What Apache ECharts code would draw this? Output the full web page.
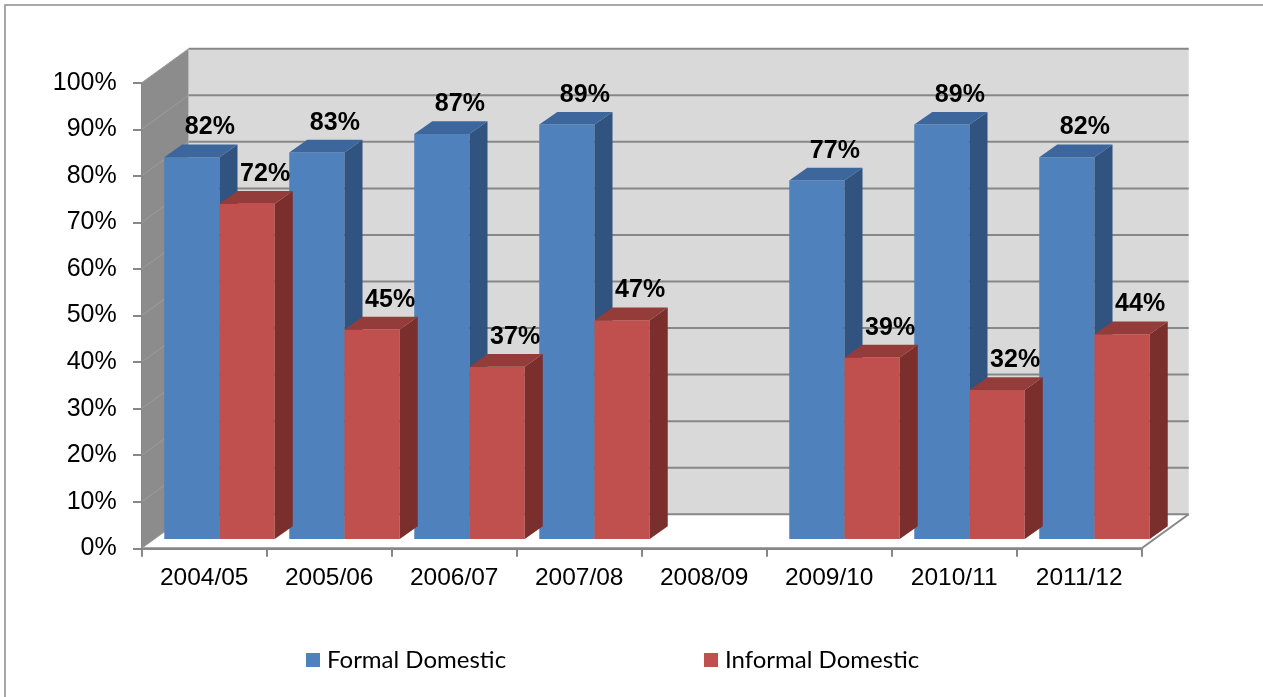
<!DOCTYPE html>
<html>
<head>
<meta charset="utf-8">
<title>Formal vs Informal Domestic</title>
<script src="https://cdn.jsdelivr.net/npm/echarts@6/dist/echarts.min.js"></script>
<style>
  html, body { margin: 0; padding: 0; background: #ffffff; }
  #chart { width: 1263px; height: 697px; }
</style>
</head>
<body>
<div id="chart"></div>
<script>
// ---- data ----
const categories = ['2004/05', '2005/06', '2006/07', '2007/08', '2008/09', '2009/10', '2010/11', '2011/12'];
const formalDomestic = [82, 83, 87, 89, null, 77, 89, 82];
const informalDomestic = [72, 45, 37, 47, null, 39, 32, 44];
const yTicks = [0, 10, 20, 30, 40, 50, 60, 70, 80, 90, 100];

// ---- 3D look ----
const WALL_DEPTH = [47, -34];      // offset from front plane to back wall
const BAR_FRONT = [15.3, -9.3];    // offset of the bars' front face from the front plane
const BAR_DEPTH = [18, -12.7];     // thickness of each column
const BAR_WIDTH_RATIO = 0.442;     // width of one column as a share of the category band

const COLORS = {
  formal:   { front: '#4F81BD', side: '#30537F', top: '#3D679C' },
  informal: { front: '#C0504D', side: '#7B2F2D', top: '#943C3A' }
};
const WALL_SIDE = '#8C8C8C';
const WALL_BACK = '#D9D9D9';
const GRID_LINE = '#878787';
const AXIS_FONT = 'Liberation Sans, Arial, sans-serif';

function toPairs(arr) {
  return arr.map((v, i) => [i, v == null ? '-' : v]);
}

function columnGeometry(api, isLeft) {
  const i = api.value(0);
  const v = api.value(1);
  if (v == null || isNaN(v)) return null;
  const top = api.coord([i, v]);
  const base = api.coord([i, 0]);
  const band = api.size([1, 0])[0];
  const w = band * BAR_WIDTH_RATIO;
  const x0 = top[0] + BAR_FRONT[0] - (isLeft ? w : 0);
  return {
    v: v, x0: x0, x1: x0 + w, w: w,
    yTop: top[1] + BAR_FRONT[1],
    yBase: base[1] + BAR_FRONT[1]
  };
}

function columnRenderer(isLeft, c) {
  return function (params, api) {
    const g = columnGeometry(api, isLeft);
    if (!g) return;
    const dx = BAR_DEPTH[0], dy = BAR_DEPTH[1];
    return {
      type: 'group',
      children: [
        { type: 'rect', shape: { x: g.x0, y: g.yTop, width: g.w, height: g.yBase - g.yTop },
          style: { fill: c.front } },
        { type: 'polygon', shape: { points: [[g.x1, g.yTop], [g.x1 + dx, g.yTop + dy], [g.x1 + dx, g.yBase + dy], [g.x1, g.yBase]] },
          style: { fill: c.side } },
        { type: 'polygon', shape: { points: [[g.x0, g.yTop], [g.x1, g.yTop], [g.x1 + dx, g.yTop + dy], [g.x0 + dx, g.yTop + dy]] },
          style: { fill: c.top } }
      ]
    };
  };
}

function labelRenderer(isLeft) {
  return function (params, api) {
    const g = columnGeometry(api, isLeft);
    if (!g) return;
    return {
      type: 'text',
      x: g.x0 + g.w / 2 + BAR_DEPTH[0],
      y: g.yTop + BAR_DEPTH[1] - 17,
      style: {
        text: g.v + '%',
        fill: '#000000',
        font: 'bold 25px ' + AXIS_FONT,
        align: 'center',
        verticalAlign: 'middle'
      }
    };
  };
}

function wallsRenderer(params, api) {
  const cs = params.coordSys;
  const L = cs.x, T = cs.y, W = cs.width, H = cs.height, B = T + H, R = L + W;
  const dx = WALL_DEPTH[0], dy = WALL_DEPTH[1];
  return {
    type: 'group',
    children: [
      { type: 'polygon', shape: { points: [[L, B], [R, B], [R + dx, B + dy], [L + dx, B + dy]] },
        style: { fill: '#ffffff' } },
      { type: 'polygon', shape: { points: [[L, T], [L + dx, T + dy], [L + dx, B + dy], [L, B]] },
        style: { fill: WALL_SIDE } },
      { type: 'rect', shape: { x: L + dx, y: T + dy, width: W, height: H },
        style: { fill: WALL_BACK } },
      { type: 'line', shape: { x1: R, y1: B, x2: R + dx, y2: B + dy },
        style: { stroke: GRID_LINE, lineWidth: 2 } },
      { type: 'line', shape: { x1: L, y1: B, x2: R, y2: B },
        style: { stroke: GRID_LINE, lineWidth: 2 } }
    ]
  };
}

function gridLineRenderer(params, api) {
  const cs = params.coordSys;
  const L = cs.x, R = cs.x + cs.width;
  const y = api.coord([0, api.value(1)])[1];
  const dx = WALL_DEPTH[0], dy = WALL_DEPTH[1];
  return {
    type: 'group',
    children: [
      { type: 'line', shape: { x1: L + dx, y1: y + dy, x2: R + dx, y2: y + dy },
        style: { stroke: GRID_LINE, lineWidth: 2 } },
      { type: 'line', shape: { x1: L, y1: y, x2: L + dx, y2: y + dy },
        style: { stroke: '#9C9C9C', lineWidth: 1 } }
    ]
  };
}

const chart = echarts.init(document.getElementById('chart'), null, { renderer: 'canvas' });

const legendText = { fontFamily: 'Lato, sans-serif', fontSize: 24, color: '#000000', padding: [0, 0, 0, 2] };

chart.setOption({
  animation: false,
  backgroundColor: '#ffffff',
  graphic: [{
    type: 'rect',
    shape: { x: 5, y: 5, width: 1300, height: 720 },
    style: { fill: 'none', stroke: '#8C8C8C', lineWidth: 1.5 },
    silent: true,
    z: -10
  }],
  grid: { left: 141.7, top: 82.7, width: 1000, height: 465.6, containLabel: false },
  legend: [
    {
      data: ['Formal Domestic'],
      left: 301, top: 643,
      icon: 'rect', itemWidth: 14, itemHeight: 14, itemGap: 0,
      textStyle: legendText
    },
    {
      data: ['Informal Domestic'],
      left: 699, top: 643,
      icon: 'rect', itemWidth: 14, itemHeight: 14, itemGap: 0,
      textStyle: legendText
    }
  ],
  xAxis: {
    type: 'category',
    data: categories,
    boundaryGap: true,
    axisLine: { show: true, lineStyle: { color: GRID_LINE, width: 2 } },
    axisTick: { show: true, length: 8.5, lineStyle: { color: GRID_LINE, width: 2 } },
    axisLabel: { interval: 0, margin: 17, color: '#000000', fontFamily: AXIS_FONT, fontSize: 24.5 },
    splitLine: { show: false },
    z: 5
  },
  yAxis: {
    type: 'value',
    min: 0, max: 100, interval: 10,
    axisLine: { show: true, lineStyle: { color: GRID_LINE, width: 1 } },
    axisTick: { show: true, length: 8.7, lineStyle: { color: GRID_LINE, width: 2 } },
    axisLabel: { margin: 25, color: '#000000', fontFamily: AXIS_FONT, fontSize: 25, formatter: '{value}%' },
    splitLine: { show: false },
    z: 5
  },
  series: [
    {
      name: 'walls', type: 'custom', z: 0, silent: true,
      data: [[0, 0]], encode: { x: 0, y: 1 },
      renderItem: wallsRenderer
    },
    {
      name: 'gridlines', type: 'custom', z: 1, silent: true,
      data: yTicks.map(v => [0, v]), encode: { x: 0, y: 1 },
      renderItem: gridLineRenderer
    },
    {
      name: 'Formal Domestic', type: 'custom', z: 2,
      itemStyle: { color: COLORS.formal.front },
      data: toPairs(formalDomestic), encode: { x: 0, y: 1 },
      renderItem: columnRenderer(true, COLORS.formal)
    },
    {
      name: 'Informal Domestic', type: 'custom', z: 3,
      itemStyle: { color: COLORS.informal.front },
      data: toPairs(informalDomestic), encode: { x: 0, y: 1 },
      renderItem: columnRenderer(false, COLORS.informal)
    },
    {
      name: 'formal-labels', type: 'custom', z: 6, silent: true,
      data: toPairs(formalDomestic), encode: { x: 0, y: 1 },
      renderItem: labelRenderer(true)
    },
    {
      name: 'informal-labels', type: 'custom', z: 6, silent: true,
      data: toPairs(informalDomestic), encode: { x: 0, y: 1 },
      renderItem: labelRenderer(false)
    }
  ]
});
</script>
</body>
</html>
